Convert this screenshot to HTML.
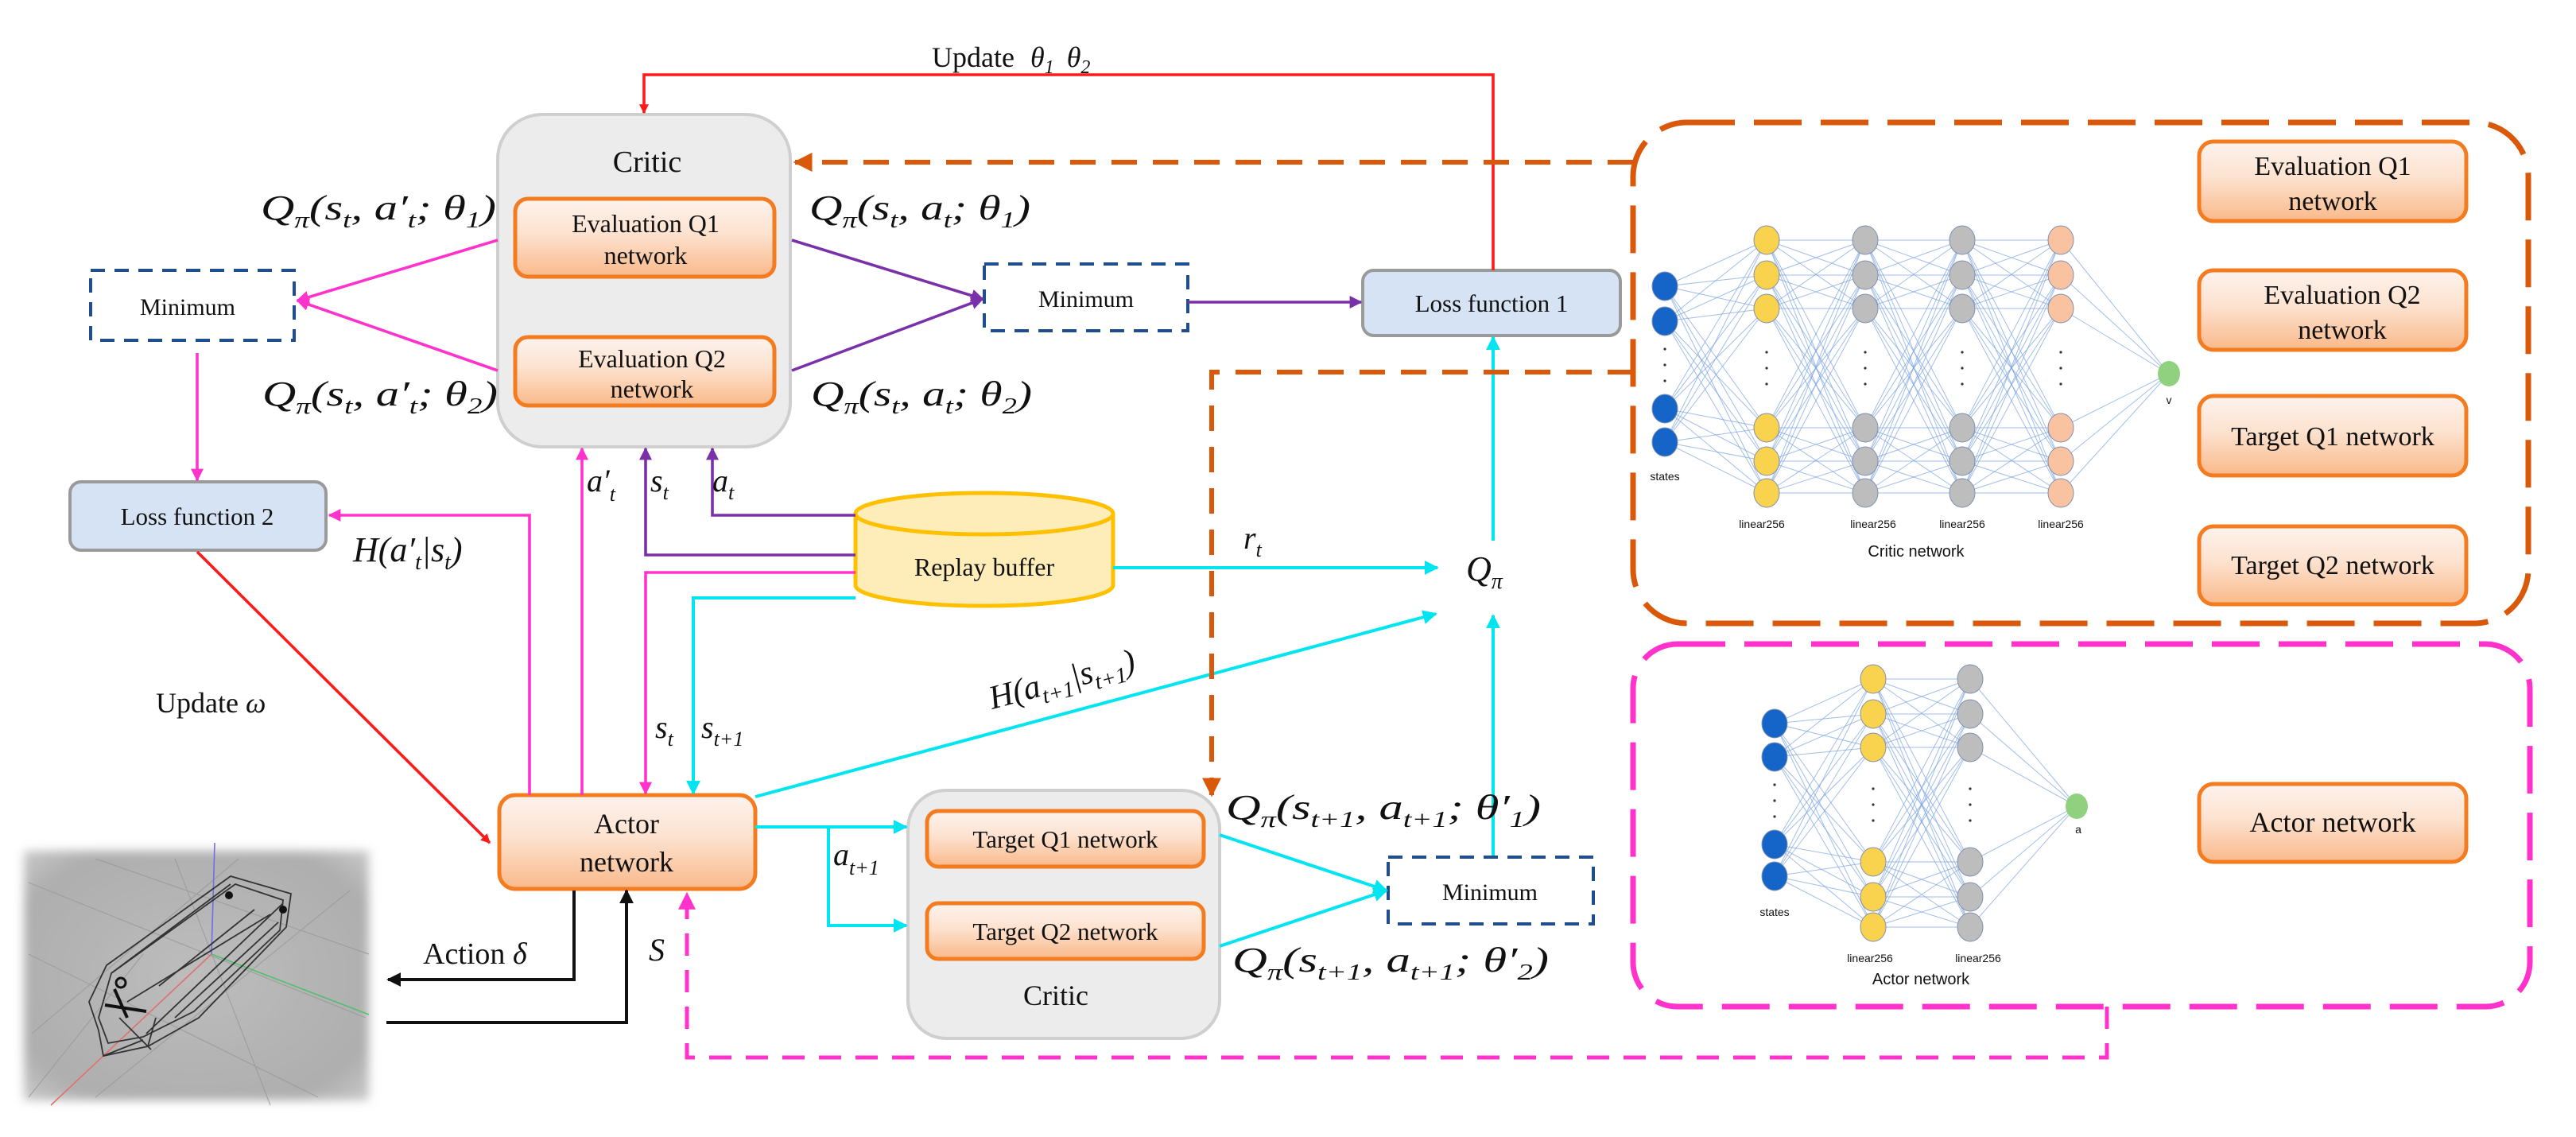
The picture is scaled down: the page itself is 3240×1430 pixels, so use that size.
<!DOCTYPE html>
<html><head><meta charset="utf-8"><style>
html,body{margin:0;padding:0;background:#fff;}
svg{display:block;}
svg text{font-family:"Liberation Serif","DejaVu Serif",serif;fill:#111;}
.m{font-style:italic;}
</style></head><body>
<svg id="s" width="3240" height="1430" viewBox="0 0 1620 715" xmlns="http://www.w3.org/2000/svg" font-family="Liberation Serif, DejaVu Serif, serif">
<defs>
<linearGradient id="og" x1="0" y1="0" x2="0" y2="1">
<stop offset="0" stop-color="#fdf3ee"/><stop offset="0.45" stop-color="#fde2cf"/><stop offset="1" stop-color="#f9b98a"/></linearGradient>
<radialGradient id="gg" cx="0.5" cy="0.5" r="0.7"><stop offset="0" stop-color="#bdbdbd"/><stop offset="0.8" stop-color="#aeaeae"/><stop offset="1" stop-color="#c8c8c8"/></radialGradient>
<filter id="bl"><feGaussianBlur stdDeviation="3"/></filter>
<marker id="aR" viewBox="0 0 10 10" refX="9" refY="5" markerWidth="6" markerHeight="6" orient="auto" markerUnits="userSpaceOnUse"><path d="M0,0L10,5L0,10z" fill="#ff1a1a"/></marker>
<marker id="aP" viewBox="0 0 10 10" refX="9" refY="5" markerWidth="8" markerHeight="8" orient="auto" markerUnits="userSpaceOnUse"><path d="M0,0L10,5L0,10z" fill="#ff33cc"/></marker>
<marker id="aV" viewBox="0 0 10 10" refX="9" refY="5" markerWidth="8" markerHeight="8" orient="auto" markerUnits="userSpaceOnUse"><path d="M0,0L10,5L0,10z" fill="#7a30a8"/></marker>
<marker id="aC" viewBox="0 0 10 10" refX="9" refY="5" markerWidth="9" markerHeight="9" orient="auto" markerUnits="userSpaceOnUse"><path d="M0,0L10,5L0,10z" fill="#00e5f0"/></marker>
<marker id="aO" viewBox="0 0 10 10" refX="9" refY="5" markerWidth="12" markerHeight="12" orient="auto" markerUnits="userSpaceOnUse"><path d="M0,0L10,5L0,10z" fill="#d9580a"/></marker>
<marker id="aK" viewBox="0 0 10 10" refX="9" refY="5" markerWidth="9" markerHeight="9" orient="auto" markerUnits="userSpaceOnUse"><path d="M0,0L10,5L0,10z" fill="#111"/></marker>
<marker id="aM" viewBox="0 0 10 10" refX="9" refY="5" markerWidth="11" markerHeight="11" orient="auto" markerUnits="userSpaceOnUse"><path d="M0,0L10,5L0,10z" fill="#ff33cc"/></marker>
</defs>

<g>
<rect x="15" y="535" width="217" height="157" fill="url(#gg)" filter="url(#bl)"/>
<g stroke="#9a9a9a" stroke-width="0.6" fill="none" opacity="0.8">
<line x1="18" y1="555" x2="230" y2="640"/><line x1="18" y1="600" x2="200" y2="690"/><line x1="60" y1="540" x2="232" y2="600"/>
<line x1="20" y1="650" x2="150" y2="540"/><line x1="60" y1="690" x2="220" y2="560"/><line x1="110" y1="540" x2="170" y2="695"/>
<line x1="18" y1="690" x2="90" y2="600"/>
</g>
<line x1="135" y1="530" x2="133" y2="600" stroke="#7070e0" stroke-width="0.8"/>
<line x1="133" y1="600" x2="232" y2="638" stroke="#50c070" stroke-width="0.8"/>
<line x1="133" y1="600" x2="32" y2="695" stroke="#e07070" stroke-width="0.8"/>
<g stroke="#333" stroke-width="0.9" fill="none">
<path d="M145,551 L183,562 L180,583 L125,640 L93,658 L65,664 L62,648 L56,630 L67,607 Z"/>
<path d="M148,556 L178,566 L176,585 L122,636 L90,652 L68,656 L62,640 L70,612 Z"/>
<path d="M70,612 L145,556 M92,650 L178,568 M80,630 L170,575 M65,664 L90,654 M93,658 L98,640"/>
<path d="M100,620 L160,572 M110,640 L175,580 M75,640 L95,660"/>
</g>
<circle cx="144" cy="563" r="2.5" fill="#111"/><circle cx="178" cy="572" r="2.5" fill="#111"/><circle cx="76" cy="618" r="3" fill="none" stroke="#111" stroke-width="1.5"/>
<path d="M72,622 L80,640 M66,632 L92,636" stroke="#111" stroke-width="2"/>
</g>

<g font-family="Liberation Serif, DejaVu Serif, serif">
<rect x="313" y="72" width="184" height="209" rx="28" fill="#ececec" stroke="#cfcfcf" stroke-width="2"/>
<text x="407" y="108" font-size="19" text-anchor="middle">Critic</text>
<rect x="324" y="125" width="163" height="49" rx="8" fill="url(#og)" stroke="#f47c20" stroke-width="2.5"/>
<text x="406" y="146" font-size="16" text-anchor="middle">Evaluation Q1</text>
<text x="406" y="166" font-size="16" text-anchor="middle">network</text>
<rect x="324" y="212" width="163" height="43" rx="8" fill="url(#og)" stroke="#f47c20" stroke-width="2.5"/>
<text x="410" y="231" font-size="16" text-anchor="middle">Evaluation Q2</text>
<text x="410" y="250" font-size="16" text-anchor="middle">network</text>

<rect x="57" y="170" width="128" height="44" fill="#fff" stroke="#1f4e8c" stroke-width="2" stroke-dasharray="9,6"/>
<text x="118" y="198" font-size="15" text-anchor="middle">Minimum</text>
<rect x="619" y="166" width="128" height="42" fill="#fff" stroke="#1f4e8c" stroke-width="2" stroke-dasharray="9,6"/>
<text x="683" y="193" font-size="15" text-anchor="middle">Minimum</text>
<rect x="873" y="539" width="129" height="42" fill="#fff" stroke="#1f4e8c" stroke-width="2" stroke-dasharray="9,6"/>
<text x="937" y="566" font-size="15" text-anchor="middle">Minimum</text>

<rect x="857" y="170" width="162" height="41" rx="7" fill="#d6e3f4" stroke="#9a9a9a" stroke-width="2"/>
<text x="938" y="196" font-size="15.5" text-anchor="middle">Loss function 1</text>
<rect x="44" y="303" width="161" height="43" rx="7" fill="#d6e3f4" stroke="#9a9a9a" stroke-width="2"/>
<text x="124" y="330" font-size="15.5" text-anchor="middle">Loss function 2</text>

<path d="M538,323 L538,368 A81,13 0 0 0 700,368 L700,323" fill="#feecb9" stroke="#ffc000" stroke-width="2.5"/>
<ellipse cx="619" cy="323" rx="81" ry="13" fill="#feecb9" stroke="#ffc000" stroke-width="2.5"/>
<text x="619" y="362" font-size="16" text-anchor="middle">Replay buffer</text>

<rect x="314" y="500" width="161" height="59" rx="10" fill="url(#og)" stroke="#f47c20" stroke-width="2.5"/>
<text x="394" y="524" font-size="18" text-anchor="middle">Actor</text>
<text x="394" y="548" font-size="18" text-anchor="middle">network</text>

<rect x="571" y="497" width="196" height="156" rx="24" fill="#ececec" stroke="#cfcfcf" stroke-width="2"/>
<rect x="583" y="510" width="174" height="35" rx="7" fill="url(#og)" stroke="#f47c20" stroke-width="2.5"/>
<text x="670" y="533" font-size="15.5" text-anchor="middle">Target Q1 network</text>
<rect x="583" y="568" width="174" height="35" rx="7" fill="url(#og)" stroke="#f47c20" stroke-width="2.5"/>
<text x="670" y="591" font-size="15.5" text-anchor="middle">Target Q2 network</text>
<text x="664" y="632" font-size="18" text-anchor="middle">Critic</text>
</g>

<polyline points="939,170 939,47 405,47 405,71" fill="none" stroke="#ff1a1a" stroke-width="1.8" marker-end="url(#aR)"/>
<text x="586" y="42" font-size="18">Update</text>
<text x="648" y="42" font-size="18" class="m">θ<tspan font-size="12" dy="4">1</tspan><tspan dx="8" dy="-4">θ</tspan><tspan font-size="12" dy="4">2</tspan></text>
<line x1="124" y1="347" x2="308" y2="530" stroke="#ff1a1a" stroke-width="1.8" marker-end="url(#aR)"/>
<text x="98" y="448" font-size="18">Update <tspan class="m">ω</tspan></text>

<g stroke="#ff33cc" stroke-width="1.8" fill="none">
<line x1="313" y1="151" x2="187" y2="189" marker-end="url(#aP)"/>
<line x1="313" y1="233" x2="187" y2="189" marker-end="url(#aP)"/>
<line x1="124" y1="222" x2="124" y2="302" marker-end="url(#aP)"/>
<polyline points="333,500 333,324 207,324" marker-end="url(#aP)"/>
<line x1="366" y1="500" x2="366" y2="282" marker-end="url(#aP)"/>
<polyline points="538,360 406,360 406,499" marker-end="url(#aP)"/>
</g>
<g stroke="#7a30a8" stroke-width="1.8" fill="none">
<line x1="498" y1="151" x2="618" y2="188" marker-end="url(#aV)"/>
<line x1="498" y1="233" x2="618" y2="188" marker-end="url(#aV)"/>
<line x1="747" y1="190" x2="856" y2="190" marker-end="url(#aV)"/>
<polyline points="538,349 406,349 406,282" marker-end="url(#aV)"/>
<polyline points="538,324 448,324 448,282" marker-end="url(#aV)"/>
</g>

<g stroke="#00e5f0" stroke-width="2" fill="none">
<line x1="700" y1="357" x2="904" y2="357" marker-end="url(#aC)"/>
<polyline points="538,376 436,376 436,499" marker-end="url(#aC)"/>
<line x1="475" y1="501" x2="903" y2="386" marker-end="url(#aC)"/>
<line x1="939" y1="340" x2="939" y2="212" marker-end="url(#aC)"/>
<line x1="939" y1="538" x2="939" y2="387" marker-end="url(#aC)"/>
<line x1="475" y1="520" x2="570" y2="520" marker-end="url(#aC)"/>
<polyline points="521,520 521,582 570,582" marker-end="url(#aC)"/>
<line x1="767" y1="525" x2="872" y2="560" marker-end="url(#aC)"/>
<line x1="767" y1="595" x2="872" y2="560" marker-end="url(#aC)"/>
</g>

<polyline points="361,560 361,616 244,616" fill="none" stroke="#111" stroke-width="2" marker-end="url(#aK)"/>
<polyline points="243,643 394,643 394,560" fill="none" stroke="#111" stroke-width="2" marker-end="url(#aK)"/>
<text x="266" y="606" font-size="19">Action <tspan class="m">δ</tspan></text>
<text x="408" y="604" font-size="20" class="m">S</text>

<g stroke="#d9580a" stroke-width="3" fill="none" stroke-dasharray="16,10">
<line x1="1027" y1="102" x2="500" y2="102" marker-end="url(#aO)"/>
<polyline points="1027,234 762,234 762,500" marker-end="url(#aO)"/>
</g>
<rect x="1027" y="77" width="563" height="315" rx="34" fill="none" stroke="#d9580a" stroke-width="3.5" stroke-dasharray="30,12"/>

<rect x="1027" y="405" width="564" height="228" rx="28" fill="none" stroke="#ff33cc" stroke-width="3.5" stroke-dasharray="30,12"/>
<polyline points="1325,633 1325,665 432,665 432,562" fill="none" stroke="#ff33cc" stroke-width="2.5" stroke-dasharray="14,9" marker-end="url(#aM)"/>

<g font-family="Liberation Serif, DejaVu Serif, serif">
<rect x="1383" y="89" width="168" height="50" rx="9" fill="url(#og)" stroke="#f47c20" stroke-width="2.5"/>
<text x="1467" y="110" font-size="17" text-anchor="middle">Evaluation Q1</text>
<text x="1467" y="132" font-size="17" text-anchor="middle">network</text>
<rect x="1383" y="170" width="168" height="50" rx="9" fill="url(#og)" stroke="#f47c20" stroke-width="2.5"/>
<text x="1473" y="191" font-size="17" text-anchor="middle">Evaluation Q2</text>
<text x="1473" y="213" font-size="17" text-anchor="middle">network</text>
<rect x="1383" y="249" width="168" height="50" rx="9" fill="url(#og)" stroke="#f47c20" stroke-width="2.5"/>
<text x="1467" y="280" font-size="17" text-anchor="middle">Target Q1 network</text>
<rect x="1383" y="331" width="168" height="49" rx="9" fill="url(#og)" stroke="#f47c20" stroke-width="2.5"/>
<text x="1467" y="361" font-size="17" text-anchor="middle">Target Q2 network</text>
<rect x="1383" y="493" width="168" height="49" rx="9" fill="url(#og)" stroke="#f47c20" stroke-width="2.5"/>
<text x="1467" y="523" font-size="18" text-anchor="middle">Actor network</text>
</g>

<g id="nn"></g>
<g font-size="7" fill="#333">
<text x="1047" y="302" text-anchor="middle" style="font-family:'Liberation Sans',sans-serif">states</text>
<text x="1108" y="332" text-anchor="middle" style="font-family:'Liberation Sans',sans-serif">linear256</text>
<text x="1178" y="332" text-anchor="middle" style="font-family:'Liberation Sans',sans-serif">linear256</text>
<text x="1234" y="332" text-anchor="middle" style="font-family:'Liberation Sans',sans-serif">linear256</text>
<text x="1296" y="332" text-anchor="middle" style="font-family:'Liberation Sans',sans-serif">linear256</text>
<text x="1205" y="350" text-anchor="middle" font-size="10" style="font-family:'Liberation Sans',sans-serif">Critic network</text>
<text x="1364" y="254" text-anchor="middle" style="font-family:'Liberation Sans',sans-serif">v</text>
<text x="1116" y="576" text-anchor="middle" style="font-family:'Liberation Sans',sans-serif">states</text>
<text x="1176" y="605" text-anchor="middle" style="font-family:'Liberation Sans',sans-serif">linear256</text>
<text x="1244" y="605" text-anchor="middle" style="font-family:'Liberation Sans',sans-serif">linear256</text>
<text x="1208" y="619" text-anchor="middle" font-size="10" style="font-family:'Liberation Sans',sans-serif">Actor network</text>
<text x="1307" y="524" text-anchor="middle" style="font-family:'Liberation Sans',sans-serif">a</text>
</g>

<g class="m" font-size="22" font-family="Liberation Serif, DejaVu Serif, serif">
<text x="164" y="138" textLength="148" lengthAdjust="spacingAndGlyphs">Q<tspan font-size="14" dy="5">π</tspan><tspan dy="-5">(s</tspan><tspan font-size="14" dy="5">t</tspan><tspan dy="-5">, a′</tspan><tspan font-size="14" dy="5">t</tspan><tspan dy="-5">; θ</tspan><tspan font-size="14" dy="5">1</tspan><tspan dy="-5">)</tspan></text>
<text x="165" y="255" textLength="148" lengthAdjust="spacingAndGlyphs">Q<tspan font-size="14" dy="5">π</tspan><tspan dy="-5">(s</tspan><tspan font-size="14" dy="5">t</tspan><tspan dy="-5">, a′</tspan><tspan font-size="14" dy="5">t</tspan><tspan dy="-5">; θ</tspan><tspan font-size="14" dy="5">2</tspan><tspan dy="-5">)</tspan></text>
<text x="509" y="138" textLength="139" lengthAdjust="spacingAndGlyphs">Q<tspan font-size="14" dy="5">π</tspan><tspan dy="-5">(s</tspan><tspan font-size="14" dy="5">t</tspan><tspan dy="-5">, a</tspan><tspan font-size="14" dy="5">t</tspan><tspan dy="-5">; θ</tspan><tspan font-size="14" dy="5">1</tspan><tspan dy="-5">)</tspan></text>
<text x="510" y="255" textLength="139" lengthAdjust="spacingAndGlyphs">Q<tspan font-size="14" dy="5">π</tspan><tspan dy="-5">(s</tspan><tspan font-size="14" dy="5">t</tspan><tspan dy="-5">, a</tspan><tspan font-size="14" dy="5">t</tspan><tspan dy="-5">; θ</tspan><tspan font-size="14" dy="5">2</tspan><tspan dy="-5">)</tspan></text>
<text x="771" y="515" textLength="198" lengthAdjust="spacingAndGlyphs">Q<tspan font-size="14" dy="5">π</tspan><tspan dy="-5">(s</tspan><tspan font-size="14" dy="5">t+1</tspan><tspan dy="-5">, a</tspan><tspan font-size="14" dy="5">t+1</tspan><tspan dy="-5">; θ′</tspan><tspan font-size="14" dy="5">1</tspan><tspan dy="-5">)</tspan></text>
<text x="775" y="611" textLength="199" lengthAdjust="spacingAndGlyphs">Q<tspan font-size="14" dy="5">π</tspan><tspan dy="-5">(s</tspan><tspan font-size="14" dy="5">t+1</tspan><tspan dy="-5">, a</tspan><tspan font-size="14" dy="5">t+1</tspan><tspan dy="-5">; θ′</tspan><tspan font-size="14" dy="5">2</tspan><tspan dy="-5">)</tspan></text>
<text x="222" y="353">H(a′<tspan font-size="14" dy="5">t</tspan><tspan dy="-5">|s</tspan><tspan font-size="14" dy="5">t</tspan><tspan dy="-5">)</tspan></text>
<text x="369" y="309" font-size="20">a′<tspan font-size="13" dy="6">t</tspan></text>
<text x="409" y="309" font-size="20">s<tspan font-size="13" dy="5">t</tspan></text>
<text x="448" y="309" font-size="20">a<tspan font-size="13" dy="5">t</tspan></text>
<text x="412" y="464" font-size="20">s<tspan font-size="13" dy="5">t</tspan></text>
<text x="441" y="464" font-size="20">s<tspan font-size="13" dy="5">t+1</tspan></text>
<text x="524" y="544" font-size="20">a<tspan font-size="13" dy="6">t+1</tspan></text>
<text x="782" y="345" font-size="20">r<tspan font-size="13" dy="5">t</tspan></text>
<text x="922" y="365" font-size="22">Q<tspan font-size="14" dy="5">π</tspan></text>
<text transform="translate(624,446) rotate(-15)" font-size="21">H(a<tspan font-size="14" dy="5">t+1</tspan><tspan dy="-5">|s</tspan><tspan font-size="14" dy="5">t+1</tspan><tspan dy="-5">)</tspan></text>
</g>
</svg>
<script>
(function(){
var g=document.getElementById('nn'),NS='http://www.w3.org/2000/svg';
function el(t,a){var e=document.createElementNS(NS,t);for(var k in a)e.setAttribute(k,a[k]);g.appendChild(e);return e;}
function net(cols,out){
  for(var i=0;i<cols.length-1;i++){var A=cols[i],B=cols[i+1];
    A.ys.forEach(function(y1){B.ys.forEach(function(y2){el('line',{x1:A.x,y1:y1,x2:B.x,y2:y2,stroke:'#7ba3e0','stroke-width':0.5,opacity:0.7});});});}
  var L=cols[cols.length-1];L.ys.forEach(function(y){el('line',{x1:L.x,y1:y,x2:out.x,y2:out.y,stroke:'#7ba3e0','stroke-width':0.5,opacity:0.7});});
  cols.forEach(function(c){c.ys.forEach(function(y){el('ellipse',{cx:c.x,cy:y,rx:8,ry:9,fill:c.f,stroke:'#8090b0','stroke-width':0.5});});
    var m=(c.ys[c.ys.length/2-1]+c.ys[c.ys.length/2])/2;[-10,0,10].forEach(function(d){el('circle',{cx:c.x,cy:m+d,r:0.8,fill:'#333'});});});
  el('ellipse',{cx:out.x,cy:out.y,rx:7,ry:8,fill:'#8fd17e'});
}
var cy=[151,173,194,269,290,310];
net([{x:1047,ys:[180,202,257,278],f:'#1565c8'},{x:1111,ys:cy,f:'#f9d24e'},{x:1173,ys:cy,f:'#bdbdbd'},{x:1234,ys:cy,f:'#bdbdbd'},{x:1296,ys:cy,f:'#f9c3a2'}],{x:1364,y:235});
var ay=[427,449,470,542,564,583];
net([{x:1116,ys:[455,476,531,551],f:'#1565c8'},{x:1178,ys:ay,f:'#f9d24e'},{x:1239,ys:ay,f:'#bdbdbd'}],{x:1306,y:507});
})();
</script>
</body></html>
